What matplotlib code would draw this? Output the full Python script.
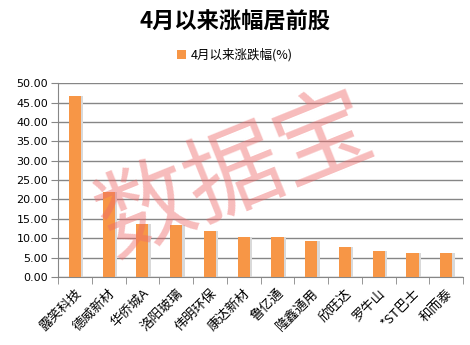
import matplotlib
matplotlib.use('Agg')
import matplotlib.pyplot as plt
import numpy as np

plt.rcParams['font.family'] = ['Noto Sans CJK SC', 'DejaVu Sans']

# data
stocks = ['露笑科技', '德威新材', '华侨城A', '洛阳玻璃', '伟明环保', '康达新材',
          '鲁亿通', '隆鑫通用', '欣旺达', '罗牛山', '*ST巴士', '和而泰']
changes = [46.7, 21.9, 13.8, 13.5, 11.9, 10.4, 10.2, 9.3, 7.8, 6.7, 6.2, 6.2]
yticks = np.arange(0, 50.01, 5)

bar_color = '#F79646'
grid_color = '#868686'

fig = plt.figure(figsize=(4.7, 3.45), dpi=100)
ax = fig.add_axes([0.1234, 0.197, 0.862, 0.562])

x = np.arange(len(stocks))
# soft shadow then bar
ax.bar(x + 0.06, changes, width=0.38, color='#d9d9d9', zorder=2)
ax.bar(x, changes, width=0.36, color=bar_color, zorder=3, label='4月以来涨跌幅(%)')

ax.set_xlim(-0.5, len(stocks) - 0.5)
ax.set_ylim(0, 50)
ax.set_yticks(yticks)
ax.set_yticklabels(['%.2f' % v for v in yticks], fontsize=8, family='DejaVu Sans')
ax.yaxis.grid(True, color=grid_color, linewidth=1)
ax.set_axisbelow(True)

ax.set_xticks(x)
ax.set_xticklabels(stocks, rotation=45, ha='right', rotation_mode='anchor', fontsize=9.5)
ax.tick_params(axis='x', length=0, pad=7)
ax.set_xticks(np.arange(-0.5, len(stocks)), minor=True)
ax.tick_params(axis='x', which='minor', length=5, color=grid_color, direction='out')
ax.tick_params(axis='y', length=5, color=grid_color, direction='out', pad=2)

for s in ['top', 'right']:
    ax.spines[s].set_visible(False)
ax.spines['left'].set_color(grid_color)
ax.spines['bottom'].set_color(grid_color)

fig.text(0.5, 0.935, '4月以来涨幅居前股', ha='center', va='center',
         fontsize=16, fontweight='bold')
fig.legend(loc='center', bbox_to_anchor=(0.5, 0.84), frameon=False, fontsize=9,
           handlelength=0.7, handleheight=0.7, handletextpad=0.4)

# watermark
fig.text(0.5, 0.49, '数据宝', ha='center', va='center', fontsize=69,
         rotation=22, color='#ee6a6a', alpha=0.45, zorder=10)

fig.savefig('out.png', dpi=100)
